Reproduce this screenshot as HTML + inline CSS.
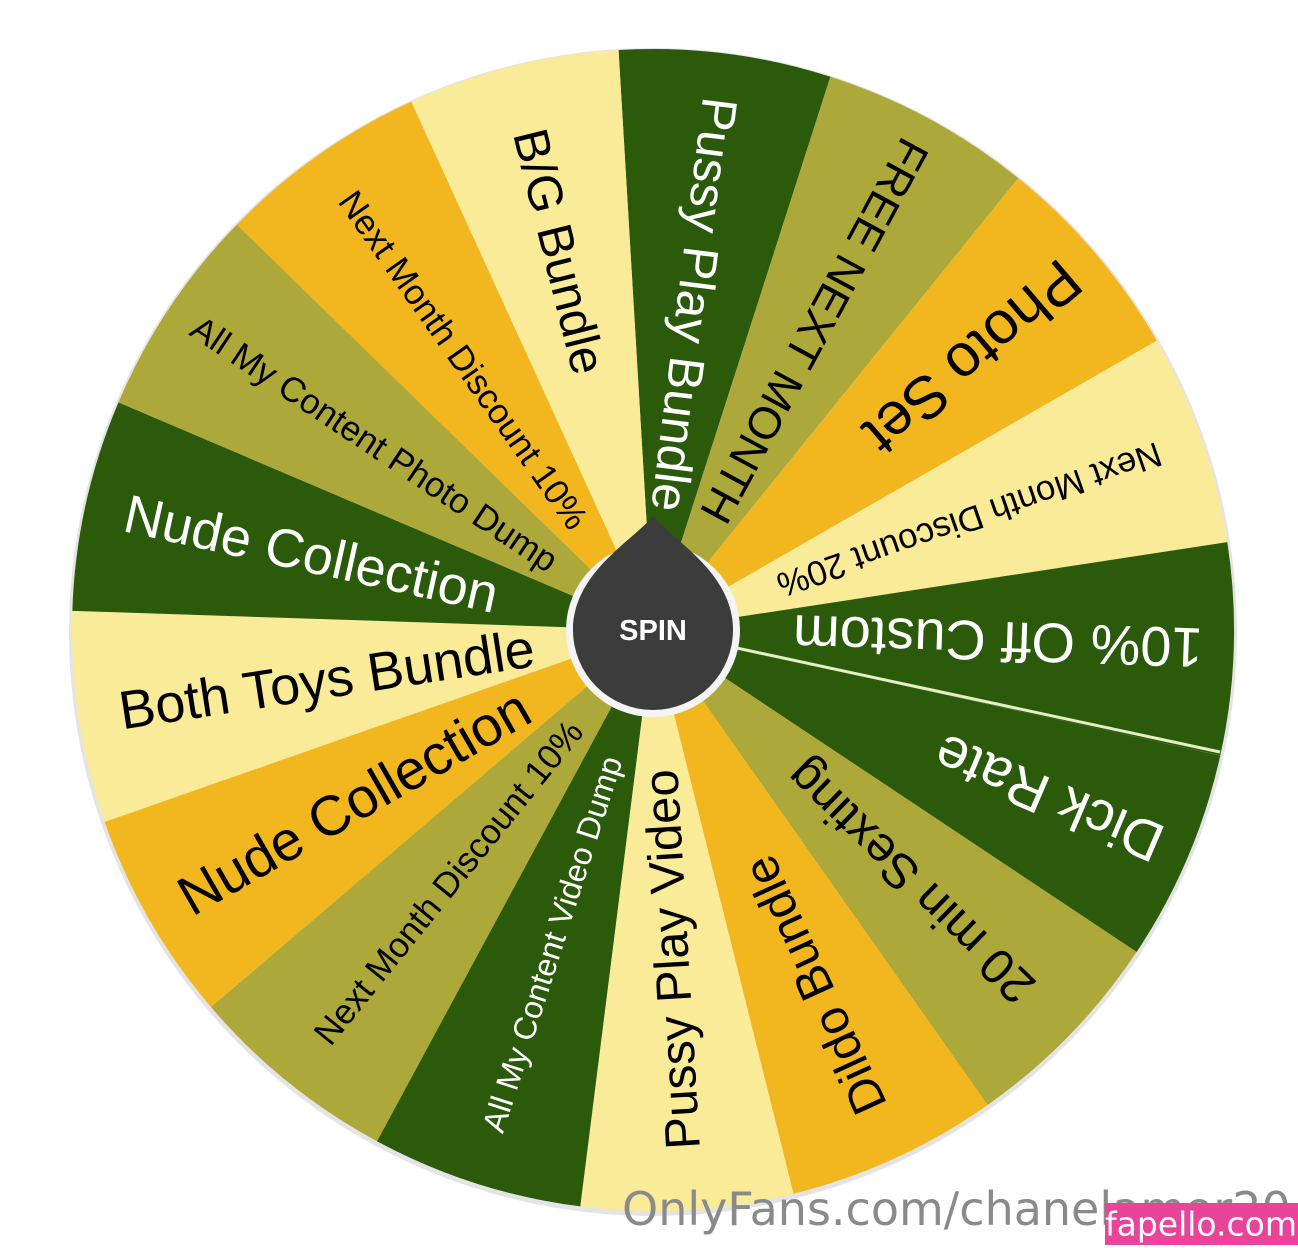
<!DOCTYPE html>
<html><head><meta charset="utf-8"><style>
html,body{margin:0;padding:0;background:#fff;width:1298px;height:1248px;overflow:hidden}
svg{display:block}
</style></head><body>
<svg width="1298" height="1248" viewBox="0 0 1298 1248" xmlns="http://www.w3.org/2000/svg" font-family="Liberation Sans, sans-serif">
<defs>
<path id="w" d="M653 630 L546.24 58.9 A581 581 0 0 1 759.76 58.9 Z"/>
</defs>
<circle cx="653" cy="632" r="584" fill="#e4e4e4"/>
<g>
<use href="#w" fill="#2a5a0a" transform="rotate(7.19 653 630)"/>
<use href="#w" fill="#aca83a" transform="rotate(28.36 653 630)"/>
<use href="#w" fill="#f2b71e" transform="rotate(49.54 653 630)"/>
<use href="#w" fill="#f9eb98" transform="rotate(70.72 653 630)"/>
<use href="#w" fill="#2a5a0a" transform="rotate(91.89 653 630)"/>
<use href="#w" fill="#2a5a0a" transform="rotate(113.07 653 630)"/>
<use href="#w" fill="#aca83a" transform="rotate(134.25 653 630)"/>
<use href="#w" fill="#f2b71e" transform="rotate(155.42 653 630)"/>
<use href="#w" fill="#f9eb98" transform="rotate(176.60 653 630)"/>
<use href="#w" fill="#2a5a0a" transform="rotate(197.78 653 630)"/>
<use href="#w" fill="#aca83a" transform="rotate(218.95 653 630)"/>
<use href="#w" fill="#f2b71e" transform="rotate(240.13 653 630)"/>
<use href="#w" fill="#f9eb98" transform="rotate(261.30 653 630)"/>
<use href="#w" fill="#2a5a0a" transform="rotate(282.48 653 630)"/>
<use href="#w" fill="#aca83a" transform="rotate(303.66 653 630)"/>
<use href="#w" fill="#f2b71e" transform="rotate(324.83 653 630)"/>
<use href="#w" fill="#f9eb98" transform="rotate(346.01 653 630)"/>
</g>
<line x1="653" y1="630" x2="1220" y2="752" stroke="#e6efc4" stroke-width="3"/>
<g text-anchor="middle" dominant-baseline="central">
<g transform="rotate(7.19 653 630)"><text x="653" y="302" font-size="50" fill="#fff" transform="rotate(90 653 302)">Pussy Play Bundle</text></g>
<g transform="rotate(28.36 653 630)"><text x="653" y="290" font-size="45" fill="#000" transform="rotate(90 653 290)">FREE NEXT MONTH</text></g>
<g transform="rotate(49.54 653 630)"><text x="653" y="210" font-size="60" fill="#000" transform="rotate(90 653 210)">Photo Set</text></g>
<g transform="rotate(70.72 653 630)"><text x="653" y="295" font-size="35" fill="#000" transform="rotate(90 653 295)">Next Month Discount 20%</text></g>
<g transform="rotate(91.89 653 630)"><text x="653" y="285" font-size="56" fill="#fff" transform="rotate(90 653 285)">10% Off Custom</text></g>
<g transform="rotate(113.07 653 630)"><text x="653" y="200" font-size="56" fill="#fff" transform="rotate(90 653 200)">Dick Rate</text></g>
<g transform="rotate(134.25 653 630)"><text x="653" y="270" font-size="49" fill="#000" transform="rotate(90 653 270)">20 min Sexting</text></g>
<g transform="rotate(155.42 653 630)"><text x="653" y="240" font-size="49" fill="#000" transform="rotate(90 653 240)">Dildo Bundle</text></g>
<g transform="rotate(176.60 653 630)"><text x="653" y="300" font-size="49" fill="#000" transform="rotate(90 653 300)">Pussy Play Video</text></g>
<g transform="rotate(197.78 653 630)"><text x="653" y="300" font-size="32" fill="#fff" transform="rotate(90 653 300)">All My Content Video Dump</text></g>
<g transform="rotate(218.95 653 630)"><text x="653" y="305" font-size="35" fill="#000" transform="rotate(90 653 305)">Next Month Discount 10%</text></g>
<g transform="rotate(240.13 653 630)"><text x="653" y="285" font-size="56" fill="#000" transform="rotate(90 653 285)">Nude Collection</text></g>
<g transform="rotate(261.30 653 630)"><text x="653" y="300" font-size="54" fill="#000" transform="rotate(90 653 300)">Both Toys Bundle</text></g>
<g transform="rotate(282.48 653 630)"><text x="653" y="280" font-size="54" fill="#fff" transform="rotate(90 653 280)">Nude Collection</text></g>
<g transform="rotate(303.66 653 630)"><text x="653" y="295" font-size="35" fill="#000" transform="rotate(90 653 295)">All My Content Photo Dump</text></g>
<g transform="rotate(324.83 653 630)"><text x="653" y="300" font-size="35" fill="#000" transform="rotate(90 653 300)">Next Month Discount 10%</text></g>
<g transform="rotate(346.01 653 630)"><text x="653" y="240" font-size="49" fill="#000" transform="rotate(90 653 240)">B/G Bundle</text></g>
</g>
<circle cx="653" cy="630" r="87" fill="#f4f4f4"/>
<circle cx="653" cy="630" r="80" fill="#3c3c3c"/>
<path d="M653 516 C672 540 733 572 733 630 L573 630 C573 572 634 540 653 516 Z" fill="#3c3c3c"/>
<text x="653" y="631" text-anchor="middle" dominant-baseline="central" font-size="29" font-weight="bold" fill="#fff">SPIN</text>
<text x="622" y="1225" style="font-family:'DejaVu Sans',sans-serif" font-size="46" fill="#8a8a8a">OnlyFans.com/chanelamor20</text>
<rect x="1105" y="1203" width="193" height="42" fill="#e8449a"/>
<text x="1201" y="1224" text-anchor="middle" dominant-baseline="central" style="font-family:'DejaVu Sans',sans-serif" font-size="33" fill="#fff">fapello.com</text>
</svg>
</body></html>
